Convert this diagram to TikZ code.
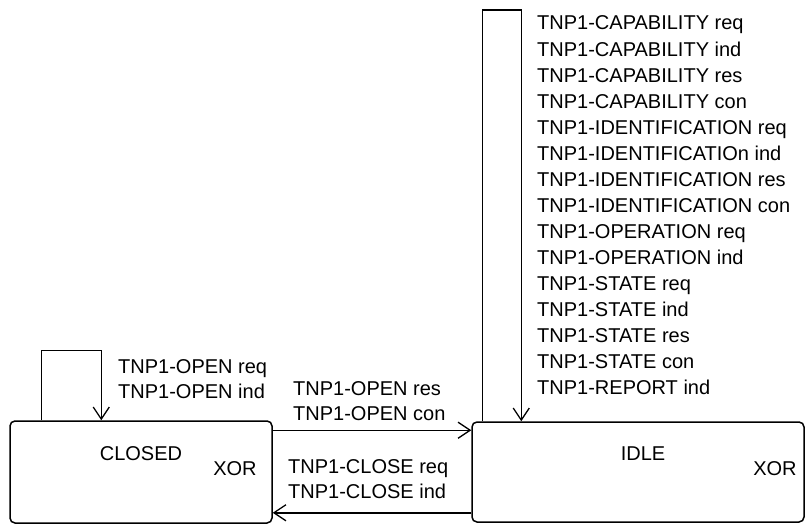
\documentclass[tikz,border=0pt]{standalone}
\usepackage{fontspec}
\setmainfont{Liberation Sans}
\usetikzlibrary{arrows.meta}
\begin{document}
\begin{tikzpicture}[x=1pt,y=-1pt,
  state/.style={draw,line width=1.5pt,rounded corners=5pt,inner sep=0pt},
  lbl/.style={inner sep=0pt,anchor=base west,font=\fontsize{20}{26}\selectfont},
  ctr/.style={inner sep=0pt,anchor=base,font=\fontsize{20}{26}\selectfont},
  trans/.style={line width=1.5pt,-{Straight Barb[length=12pt,width=16pt,line width=1.3pt]}}]
\useasboundingbox (0,0) rectangle (807,524);

% states
\node[state,minimum width=262pt,minimum height=102pt] (closed) at (141,472) {};
\node[state,minimum width=332pt,minimum height=100pt] (idle) at (638,472) {};
\node[ctr] (closedname) at (141,460) {CLOSED};
\node[ctr] (closedxor) at (235,475) {XOR};
\node[ctr] (idlename) at (643,460) {IDLE};
\node[ctr] (idlexor) at (775,475) {XOR};

% self transition on CLOSED
\draw[trans] ([xshift=32pt]closed.north west) -- ++(0,-70) -| ([xshift=92pt]closed.north west);
\node[lbl] (openreq) at (118,373) {TNP1-OPEN req};
\node[lbl] (openind) at (118,398) {TNP1-OPEN ind};

% CLOSED -> IDLE
\draw[trans] ([yshift=-10pt]closed.north east) -- ([yshift=-10pt]closed.north east -| idle.west);
\node[lbl] (openres) at (293,395) {TNP1-OPEN res};
\node[lbl] (opencon) at (293,420) {TNP1-OPEN con};

% IDLE -> CLOSED
\draw[trans] ([yshift=10pt]idle.south west) -- ([yshift=10pt]idle.south west -| closed.east);
\node[lbl] (closereq) at (288,473) {TNP1-CLOSE req};
\node[lbl] (closeind) at (288,498) {TNP1-CLOSE ind};

% self transition on IDLE
\draw[trans] ([xshift=11pt]idle.north west) -- ++(0,-411) -| ([xshift=50pt]idle.north west);
\foreach \t [count=\i from 0] in {
  TNP1-CAPABILITY req, TNP1-CAPABILITY ind, TNP1-CAPABILITY res, TNP1-CAPABILITY con,
  TNP1-IDENTIFICATION req, TNP1-IDENTIFICATIOn ind, TNP1-IDENTIFICATION res,
  TNP1-IDENTIFICATION con, TNP1-OPERATION req, TNP1-OPERATION ind,
  TNP1-STATE req, TNP1-STATE ind, TNP1-STATE res, TNP1-STATE con, TNP1-REPORT ind}
  \node[lbl] (idleev\i) at (537,30+26.07*\i) {\t};
\end{tikzpicture}
\end{document}
